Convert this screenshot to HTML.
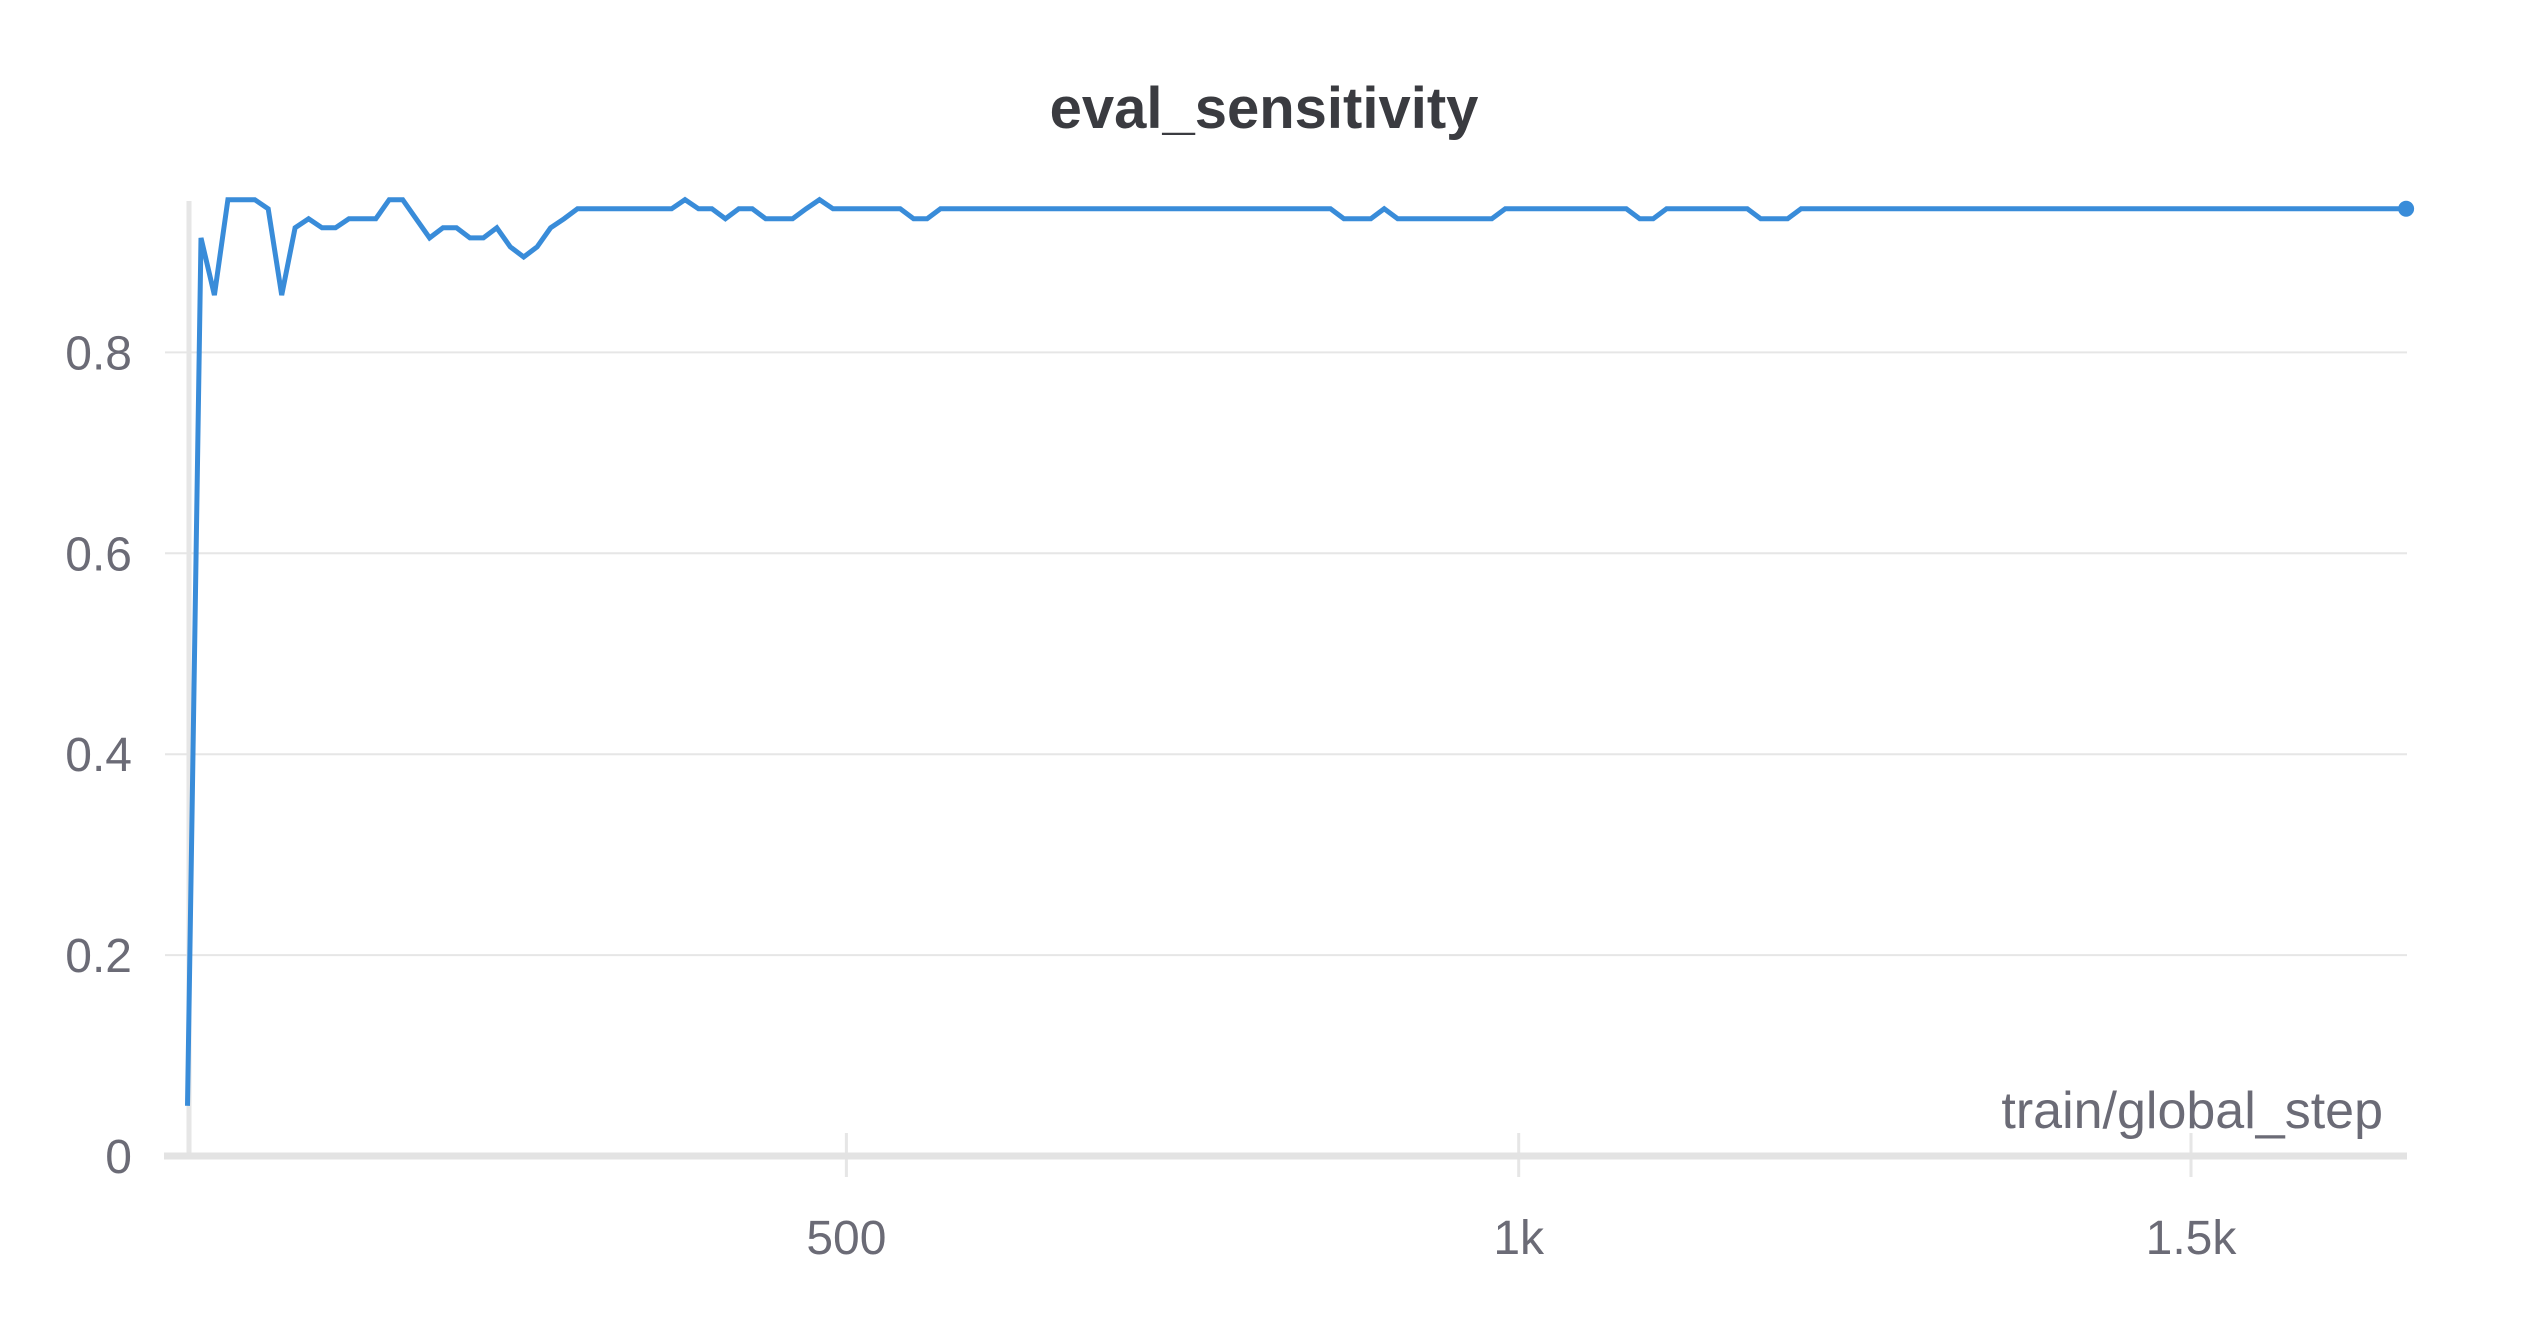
<!DOCTYPE html>
<html><head><meta charset="utf-8"><style>
html,body{margin:0;padding:0;background:#fff;}
svg{display:block;}
text{font-family:"Liberation Sans",sans-serif;}
</style></head><body>
<svg id="chart" width="2528" height="1328" viewBox="0 0 2528 1328" xmlns="http://www.w3.org/2000/svg">
<text x="1264" y="128" text-anchor="middle" font-size="58" font-weight="bold" fill="#3a3b40">eval_sensitivity</text>
<g id="grid"></g>
<g id="axes"></g>
<g id="series"></g>
</svg>
<script>
const yTicks = [0, 0.2, 0.4, 0.6, 0.8];
const yTickLabels = ["0", "0.2", "0.4", "0.6", "0.8"];
const xTicks = [500, 1000, 1500];
const xTickLabels = ["500", "1k", "1.5k"];
const steps = [10,20,30,40,50,60,70,80,90,100,110,120,130,140,150,160,170,180,190,200,210,220,230,240,250,260,270,280,290,300,310,320,330,340,350,360,370,380,390,400,410,420,430,440,450,460,470,480,490,500,510,520,530,540,550,560,570,580,590,600,610,620,630,640,650,660,670,680,690,700,710,720,730,740,750,760,770,780,790,800,810,820,830,840,850,860,870,880,890,900,910,920,930,940,950,960,970,980,990,1000,1010,1020,1030,1040,1050,1060,1070,1080,1090,1100,1110,1120,1130,1140,1150,1160,1170,1180,1190,1200,1210,1220,1230,1240,1250,1260,1270,1280,1290,1300,1310,1320,1330,1340,1350,1360,1370,1380,1390,1400,1410,1420,1430,1440,1450,1460,1470,1480,1490,1500,1510,1520,1530,1540,1550,1560,1570,1580,1590,1600,1610,1620,1630,1640,1650,1660];
const values = [0.05,0.914,0.857,0.952,0.952,0.952,0.943,0.857,0.924,0.933,
0.924,0.924,0.933,0.933,0.933,0.952,0.952,0.933,0.914,0.924,
0.924,0.914,0.914,0.924,0.905,0.895,0.905,0.924,0.933,0.943,
0.943,0.943,0.943,0.943,0.943,0.943,0.943,0.952,0.943,0.943,
0.933,0.943,0.943,0.933,0.933,0.933,0.943,0.952,0.943,0.943,
0.943,0.943,0.943,0.943,0.933,0.933,0.943,0.943,0.943,0.943,
0.943,0.943,0.943,0.943,0.943,0.943,0.943,0.943,0.943,0.943,
0.943,0.943,0.943,0.943,0.943,0.943,0.943,0.943,0.943,0.943,
0.943,0.943,0.943,0.943,0.943,0.943,0.933,0.933,0.933,0.943,
0.933,0.933,0.933,0.933,0.933,0.933,0.933,0.933,0.943,0.943,
0.943,0.943,0.943,0.943,0.943,0.943,0.943,0.943,0.933,0.933,
0.943,0.943,0.943,0.943,0.943,0.943,0.943,0.933,0.933,0.933,
0.943,0.943,0.943,0.943,0.943,0.943,0.943,0.943,0.943,0.943,
0.943,0.943,0.943,0.943,0.943,0.943,0.943,0.943,0.943,0.943,
0.943,0.943,0.943,0.943,0.943,0.943,0.943,0.943,0.943,0.943,
0.943,0.943,0.943,0.943,0.943,0.943,0.943,0.943,0.943,0.943,
0.943,0.943,0.943,0.943,0.943,0.943];

const NS = "http://www.w3.org/2000/svg";
const X0 = 174.1, XPER = 672.3 / 500;
const Y0 = 1156, YPER = 200.9 / 0.2;
const PL = 189, PR = 2407;
function xs(v){ return X0 + v * XPER; }
function ys(v){ return Y0 - v * YPER; }
function mk(tag, attrs, parent){
  const e = document.createElementNS(NS, tag);
  for (const k in attrs) e.setAttribute(k, attrs[k]);
  parent.appendChild(e);
  return e;
}
const grid = document.getElementById('grid');
const axes = document.getElementById('axes');
const series = document.getElementById('series');

yTicks.forEach((t, i) => {
  if (t > 0) {
    const g = mk('line', {x1: PL - 24, x2: PR, y1: ys(t), y2: ys(t), stroke: '#e6e6e6', 'stroke-width': 2}, grid);
    
    
  }
  const l = mk('text', {x: 132, y: ys(t) + 17, 'text-anchor': 'end', 'font-size': 48, fill: '#6b6b76'}, axes);
  l.textContent = yTickLabels[i];
  
  
});

const ya = mk('line', {x1: PL, x2: PL, y1: 201, y2: Y0, stroke: '#e6e6e6', 'stroke-width': 5}, axes);



xTicks.forEach((t, i) => {
  const tk = mk('line', {x1: xs(t), x2: xs(t), y1: 1133, y2: 1177, stroke: '#e6e6e6', 'stroke-width': 3}, axes);
  
  
  const l = mk('text', {x: xs(t), y: 1254, 'text-anchor': 'middle', 'font-size': 48, fill: '#6b6b76'}, axes);
  l.textContent = xTickLabels[i];
  
  
});

const xa = mk('line', {x1: 164, x2: PR, y1: Y0, y2: Y0, stroke: '#e3e3e3', 'stroke-width': 7}, axes);



const xt = mk('text', {x: 2383, y: 1128, 'text-anchor': 'end', 'font-size': 52, fill: '#6b6b76'}, axes);
xt.textContent = 'train/global_step';



let d = '';
steps.forEach((s, i) => { d += (i ? 'L' : 'M') + xs(s).toFixed(1) + ',' + ys(values[i]).toFixed(1); });
const line = mk('path', {d: d, fill: 'none', stroke: '#398cd9', 'stroke-width': 5, 'stroke-linejoin': 'miter'}, series);



const last = steps.length - 1;
const dot = mk('circle', {cx: xs(steps[last]), cy: ys(values[last]), r: 8, fill: '#398cd9'}, series);


</script>
</body></html>
